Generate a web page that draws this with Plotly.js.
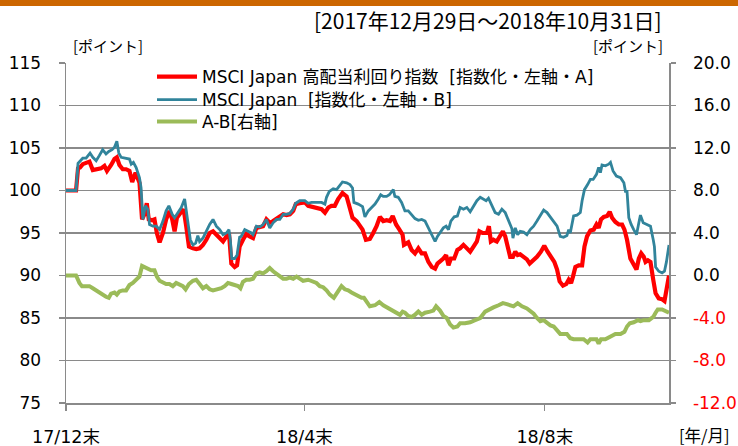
<!DOCTYPE html>
<html>
<head>
<meta charset="utf-8">
<script src="https://cdn.plot.ly/plotly-3.0.1.min.js"></script>
<style>
  html, body { margin: 0; padding: 0; background: #ffffff; }
  #chart { width: 738px; height: 446px; }
</style>
</head>
<body>
<div id="chart"></div>
<script>
// ---- data (day offsets from 2017-12-29) ----
const startDate = Date.UTC(2017, 11, 29);
const endDate = '2018-10-31';

const seriesNames = [
  'MSCI Japan 高配当利回り指数 \u00a0[指数化・左軸・A]',
  'MSCI Japan \u00a0[指数化・左軸・B]',
  'A-B[右軸]'
];

const daysA = [0,5.1,6.1,7.1,8.5,10.2,11.9,13.6,15.3,17.8,19.5,20.8,22.9,24.6,25.8,27.1,28.8,30.5,32.2,33.6,35.3,37.3,38.6,39.8,41.0,42.0,43.7,44.9,46.1,47.5,49.2,50.8,52.5,53.9,55.1,56.3,57.6,59.7,61.0,62.4,64.4,66.1,67.8,69.5,71.2,72.9,74.6,76.3,78.0,79.7,81.4,82.7,83.9,85.6,86.8,88.1,89.8,91.5,93.2,94.9,96.6,98.3,100.0,101.7,103.4,105.1,106.8,108.5,110.2,111.9,113.6,115.3,116.6,118.6,121.2,122.9,124.6,127.1,129.7,131.4,133.1,134.7,136.4,138.1,140.3,142.4,143.7,145.4,147.5,149.2,150.5,152.2,154.2,155.9,157.6,159.3,161.0,162.7,164.4,165.8,167.5,169.2,170.8,171.5,173.7,175.4,177.1,178.8,180.5,182.2,183.9,185.6,187.3,188.5,189.8,191.5,192.9,194.1,195.3,197.0,198.6,200.0,201.7,203.4,205.1,206.8,208.5,209.8,211.5,213.6,214.6,215.6,216.9,218.6,220.3,221.7,222.9,224.1,225.4,226.8,228.0,229.2,230.5,232.2,233.9,235.3,237.3,239.0,241.0,242.7,244.4,245.8,247.8,249.2,250.5,252.2,253.9,255.1,256.3,257.3,258.5,260.2,261.9,263.1,264.4,266.1,267.8,269.2,270.3,271.5,272.9,274.6,275.9,277.1,278.8,280.5,282.2,283.4,284.7,286.4,288.1,289.5,290.7,291.9,293.2,294.1,295.3,296.6,298.0,299.2,300.8,302.5,303.7,304.4,306];
const valuesA = [100,100,102.6,102.7,103.1,103.3,103.4,102.4,102.5,102.6,102.9,102.3,103.0,103.7,103.9,103.0,102.5,102.5,102.3,101.0,102.1,100.9,96.6,97.2,98.5,96.6,96.5,96.6,95.0,93.9,95.0,96.6,97.6,96.6,95.2,96.8,97.2,97.8,95.8,93.4,93.2,93.1,93.2,93.6,94.2,95.0,95.2,94.8,94.4,94.0,94.6,95.0,91.4,91.0,91.2,93.4,94.2,94.9,94.6,94.4,95.6,95.7,95.8,96.6,96.2,96.4,96.7,96.9,97.2,97.1,97.2,97.6,98.4,98.5,98.6,98.2,98.1,98.0,97.8,97.4,98.0,98.2,98.2,99.0,99.7,99.3,98.2,96.8,96.4,95.8,95.4,94.2,94.3,95.0,95.8,96.9,96.4,96.5,96.4,97.0,96.0,95.4,94.8,93.6,93.9,93.0,92.6,93.2,92.6,92.6,91.6,91.0,90.8,91.4,91.6,92.0,92.4,91.2,92.0,92.0,93.0,93.2,93.6,93.2,92.8,93.4,94.0,95.2,95.0,95.0,95.8,94.0,94.2,94.0,94.6,95.2,94.6,93.4,92.2,92.2,92.8,92.4,92.5,92.2,91.9,91.4,91.8,92.2,92.8,93.5,92.8,92.2,91.6,90.7,89.3,88.8,89.0,89.5,89.1,89.9,91.0,91.2,91.2,93.4,94.6,95.3,95.4,96.0,95.6,96.6,96.9,97.0,97.5,96.8,96.3,96.0,96.0,95.4,94.2,92.0,91.4,90.7,92.0,92.6,92.2,91.6,91.8,91.6,89.5,87.9,87.3,87.2,87.0,87.9,90.0];

const daysB = [0,5.1,6.1,7.1,8.5,10.2,12.2,13.6,15.3,16.9,18.6,20.3,21.7,23.4,24.6,25.8,26.8,28.0,30.5,32.2,33.1,34.2,35.6,37.3,38.1,39.0,40.3,41.5,42.4,44.1,45.8,47.5,49.2,50.8,52.2,53.9,55.1,56.8,58.5,60.2,61.4,63.1,64.4,65.8,66.9,67.8,69.5,71.2,72.9,74.6,76.3,78.0,79.7,81.4,82.7,83.4,84.1,85.6,86.8,88.1,88.9,90.7,92.4,94.1,94.9,96.6,98.3,100.0,101.7,103.4,105.1,106.8,108.5,110.2,111.9,113.6,115.3,116.6,118.6,121.2,122.9,124.6,127.1,129.7,131.4,132.2,133.6,135.6,137.3,139.0,140.3,142.4,144.1,145.4,146.1,148.3,150.0,150.5,151.7,153.4,155.1,156.8,158.5,159.7,161.0,162.7,164.1,165.3,166.1,166.9,168.6,170.3,172.0,173.7,175.4,177.1,178.8,180.5,182.2,183.9,185.6,187.3,188.5,189.8,191.5,192.9,194.1,195.3,197.0,198.6,200.0,201.7,203.4,205.1,206.8,208.5,210.2,211.9,213.2,214.4,216.1,217.8,219.5,221.2,222.9,224.6,226.3,226.8,228.0,229.2,230.5,232.2,233.9,235.6,237.3,239.0,240.7,242.4,244.1,245.8,247.5,249.2,250.8,252.5,254.2,255.1,255.9,257.6,259.3,261.0,261.9,263.1,264.7,266.1,267.5,269.2,270.3,271.2,272.0,273.7,275.4,276.3,277.6,279.3,281.4,283.1,283.9,284.7,285.6,286.8,288.1,289.5,290.7,291.5,292.9,294.9,296.6,298.0,298.6,299.2,300.8,302.5,303.7,304.7,306];
const valuesB = [100,100,103.2,103.5,103.8,103.8,104.4,103.9,103.5,104.1,104.8,104.3,104.6,104.8,105.1,105.8,104.4,103.9,103.8,103.7,103.1,103.3,102.7,101.5,100.3,96.6,98.2,97.8,96.0,95.8,95.8,95.4,96.4,97.6,98.2,97.2,96.8,97.4,98.0,99.0,97.0,94.2,93.6,93.8,94.7,94.0,94.4,95.2,96.0,96.6,95.8,95.4,94.8,95.0,95.4,94.2,92.0,92.0,92.4,94.5,94.6,95.4,95.2,95.0,94.8,95.8,95.7,96.0,96.6,95.6,96.2,96.6,96.6,97.2,97.2,97.3,97.8,98.5,98.8,98.8,98.5,98.6,98.6,98.6,98.4,99.2,99.9,100.2,100.1,100.7,101.0,100.9,100.7,100.3,98.6,98.4,98.2,98.1,96.9,97.6,98.0,98.4,99.0,99.5,99.3,99.3,99.5,99.9,100.1,99.3,99.2,98.6,97.6,97.6,97.1,96.7,96.5,96.6,96.4,95.6,94.8,94.0,94.6,95.0,95.6,95.8,95.4,96.4,96.9,97.0,98.0,97.8,98.0,97.5,98.1,98.8,99.2,99.0,98.8,99.1,98.2,97.4,97.2,97.8,97.4,96.5,95.5,94.4,95.6,94.8,95.2,95.1,94.8,95.4,95.8,96.4,97.1,97.7,97.4,96.9,96.4,95.8,94.6,94.5,94.7,95.4,95.0,97.0,97.1,97.4,98.8,100.1,100.7,101.3,101.3,101.9,102.7,102.1,103.0,102.9,103.1,103.3,102.3,101.7,101.5,100.9,99.9,99.9,96.8,96.0,95.4,94.8,96.2,97.1,96.2,96.0,95.8,94.2,93.4,91.0,90.5,90.3,90.5,91.6,93.6];

const daysAB = [0,5.1,6.8,8.1,10.2,11.9,13.6,15.3,16.9,18.6,20.3,21.7,22.9,24.6,25.8,27.1,28.8,30.5,32.2,33.9,35.6,37.3,38.6,39.8,41.5,43.2,44.9,46.1,47.5,49.2,50.8,52.5,54.2,55.9,57.6,59.3,60.7,62.4,64.4,66.1,67.8,69.5,71.2,72.9,74.6,76.3,78.8,80.5,82.2,83.9,85.6,87.3,88.5,89.8,91.5,93.2,94.9,96.6,98.3,100.0,101.7,103.4,105.1,106.8,108.5,110.2,111.9,113.6,115.3,117.0,118.6,120.3,122.9,125.4,127.1,128.8,130.5,132.2,133.9,135.9,137.3,139.8,141.5,143.2,144.9,146.6,148.3,150.0,151.2,152.5,154.2,156.8,159.0,161.0,163.6,166.1,167.8,169.5,170.8,172.0,173.7,175.4,177.1,178.8,180.5,182.2,184.7,186.4,187.8,189.8,191.5,193.2,194.9,196.6,198.6,200.0,202.5,205.1,207.6,210.2,212.7,214.4,216.9,219.5,221.7,223.7,226.3,227.1,229.2,231.4,233.9,235.6,237.3,239.0,240.7,242.4,244.1,245.8,247.5,249.2,250.8,252.5,254.2,255.9,257.6,260.2,262.7,264.7,266.1,267.8,269.2,270.3,271.5,273.7,276.3,278.8,281.4,283.4,284.7,286.1,288.1,290.2,291.5,293.2,295.8,298.0,299.2,300.3,302.5,304.2,306];
const valuesAB = [0,0,-0.7,-1.0,-1.0,-1.0,-1.2,-1.4,-1.7,-1.9,-2.0,-2.1,-1.7,-1.6,-1.8,-1.5,-1.4,-1.4,-0.9,-0.7,-0.4,-0.1,0.9,0.8,0.6,0.5,0.5,-0.1,-0.5,-0.7,-0.8,-0.8,-1.0,-0.7,-0.9,-1.0,-1.3,-0.8,-0.5,-0.4,-0.8,-1.2,-1.0,-1.3,-1.4,-1.3,-1.2,-1.0,-0.7,-0.8,-0.9,-1.0,-1.2,-0.6,-0.4,-0.4,-0.3,0.2,0.3,0.2,0.4,0.7,0.4,0.2,0.0,-0.3,-0.3,-0.2,-0.3,-0.1,-0.3,-0.5,-0.4,-0.6,-0.7,-1.0,-1.1,-1.4,-1.8,-2.1,-1.7,-1.0,-1.3,-1.4,-1.6,-1.8,-2.0,-2.1,-2.1,-2.5,-2.9,-2.8,-2.5,-2.8,-3.1,-3.4,-3.5,-3.7,-3.4,-3.5,-3.8,-3.9,-3.7,-3.4,-3.7,-3.5,-3.4,-3.3,-2.9,-3.3,-3.8,-4.0,-4.6,-4.9,-4.8,-4.5,-4.5,-4.4,-4.2,-4.0,-3.4,-3.2,-3.0,-2.8,-2.6,-2.7,-2.8,-2.9,-2.6,-2.9,-3.1,-3.3,-3.6,-4.0,-4.3,-4.2,-4.5,-4.7,-4.8,-5.1,-5.5,-5.5,-5.5,-5.9,-6.0,-6.0,-6.0,-6.3,-6.0,-6.0,-6.0,-6.4,-6.0,-6.0,-5.7,-5.5,-5.5,-5.3,-4.8,-4.5,-4.4,-4.2,-4.3,-4.2,-4.2,-3.9,-3.5,-3.2,-3.2,-3.3,-3.5];

const xTickDates = ['2017-12-29', '2018-04-29', '2018-08-29'];
const xTickLabels = ['17/12末', '18/4末', '18/8末'];
const leftTicks = [75, 80, 85, 90, 95, 100, 105, 110, 115];
const rightTicks = [-12, -8, -4, 0, 4, 8, 12, 16, 20];

// ---- build ----
function pad(n) { return (n < 10 ? '0' : '') + n; }
function toDate(d) {
  const t = new Date(startDate + d * 86400000);
  return t.getUTCFullYear() + '-' + pad(t.getUTCMonth() + 1) + '-' + pad(t.getUTCDate()) +
         ' ' + pad(t.getUTCHours()) + ':' + pad(t.getUTCMinutes());
}

const FONT = 'DejaVu Sans, Noto Sans CJK JP, sans-serif';
const JFONT = 'Noto Sans CJK JP, DejaVu Sans, sans-serif';
const GRID = '#8a8a8a';

const traces = [
  { x: daysA.map(toDate), y: valuesA, name: seriesNames[0], type: 'scatter', mode: 'lines',
    line: { color: '#ff0000', width: 4.2 }, yaxis: 'y', legend: 'legend' },
  { x: daysB.map(toDate), y: valuesB, name: seriesNames[1], type: 'scatter', mode: 'lines',
    line: { color: '#31849b', width: 2.8 }, yaxis: 'y', legend: 'legend2' },
  { x: daysAB.map(toDate), y: valuesAB, name: seriesNames[2], type: 'scatter', mode: 'lines',
    line: { color: '#9bbb59', width: 4 }, yaxis: 'y2', legend: 'legend3' }
];

const W = 603, H = 340, L = 66, T = 63;
function px(x) { return (x - L) / W; }
function py(y) { return (T + H - y) / H; }

const rightText = rightTicks.map(v => {
  const s = v.toFixed(1);
  return v < 0 ? '<span style="color:#ff0000">' + s + '</span>' : s;
});

function legendAt(yPix) {
  return {
    x: px(152), y: py(yPix), xanchor: 'left', yanchor: 'middle',
    bgcolor: 'rgba(0,0,0,0)', borderwidth: 0, itemwidth: 40,
    font: { family: FONT, size: 17, color: '#000' },
    tracegroupgap: 0, itemclick: false
  };
}

const layout = {
  width: 738, height: 446,
  margin: { l: L, r: 738 - L - W, t: T, b: 446 - T - H, pad: 0 },
  paper_bgcolor: '#ffffff', plot_bgcolor: '#ffffff',
  showlegend: true,
  font: { family: FONT, size: 16, color: '#000000' },
  xaxis: {
    type: 'date', range: ['2017-12-29', endDate],
    tickmode: 'array', tickvals: xTickDates, ticktext: xTickLabels,
    ticks: 'outside', ticklen: 6, tickcolor: GRID, tickwidth: 1.3,
    showline: true, linecolor: GRID, linewidth: 1.5,
    showgrid: false, zeroline: false,
    tickfont: { family: FONT, size: 17.5, color: '#000' },
    ticklabelstandoff: 11
  },
  yaxis: {
    range: [75, 115], tickmode: 'array', tickvals: leftTicks,
    ticks: 'outside', ticklen: 6, tickcolor: GRID, tickwidth: 1.3,
    showline: true, linecolor: GRID, linewidth: 1.5,
    showgrid: true, gridcolor: GRID, gridwidth: 1.3, zeroline: false,
    tickfont: { family: FONT, size: 17, color: '#000' },
    ticklabelstandoff: 14
  },
  yaxis2: {
    overlaying: 'y', side: 'right', range: [-12, 20],
    tickmode: 'array', tickvals: rightTicks, ticktext: rightText,
    ticks: 'outside', ticklen: 5, tickcolor: GRID, tickwidth: 1.3,
    showline: true, linecolor: GRID, linewidth: 1.5,
    showgrid: false, zeroline: false,
    tickfont: { family: FONT, size: 17, color: '#000' },
    ticklabelstandoff: 14
  },
  legend: legendAt(77),
  legend2: legendAt(100),
  legend3: legendAt(122),
  shapes: [
    { type: 'rect', xref: 'paper', yref: 'paper', x0: px(0), x1: px(738), y0: py(6), y1: py(0),
      fillcolor: '#cc6600', line: { width: 0 }, layer: 'above' },
    { type: 'rect', xref: 'paper', yref: 'paper', x0: px(147), x1: px(609), y0: py(138), y1: py(66),
      fillcolor: '#ffffff', line: { width: 0 }, layer: 'between' }
  ],
  annotations: [
    { text: '[2017年12月29日～2018年10月31日]', xref: 'paper', yref: 'paper',
      x: px(488), y: py(20), xanchor: 'center', yanchor: 'middle', showarrow: false,
      font: { family: JFONT, size: 21, color: '#000' } },
    { text: '[ポイント]', xref: 'paper', yref: 'paper', x: px(107.5), y: py(46),
      xanchor: 'center', yanchor: 'middle', showarrow: false,
      font: { family: JFONT, size: 15, color: '#000' } },
    { text: '[ポイント]', xref: 'paper', yref: 'paper', x: px(628), y: py(46),
      xanchor: 'center', yanchor: 'middle', showarrow: false,
      font: { family: JFONT, size: 15, color: '#000' } },
    { text: '[年/月]', xref: 'paper', yref: 'paper', x: px(704), y: py(435),
      xanchor: 'center', yanchor: 'middle', showarrow: false,
      font: { family: JFONT, size: 16.5, color: '#000' } }
  ]
};

Plotly.newPlot('chart', traces, layout, { staticPlot: true, displayModeBar: false });
</script>
</body>
</html>
